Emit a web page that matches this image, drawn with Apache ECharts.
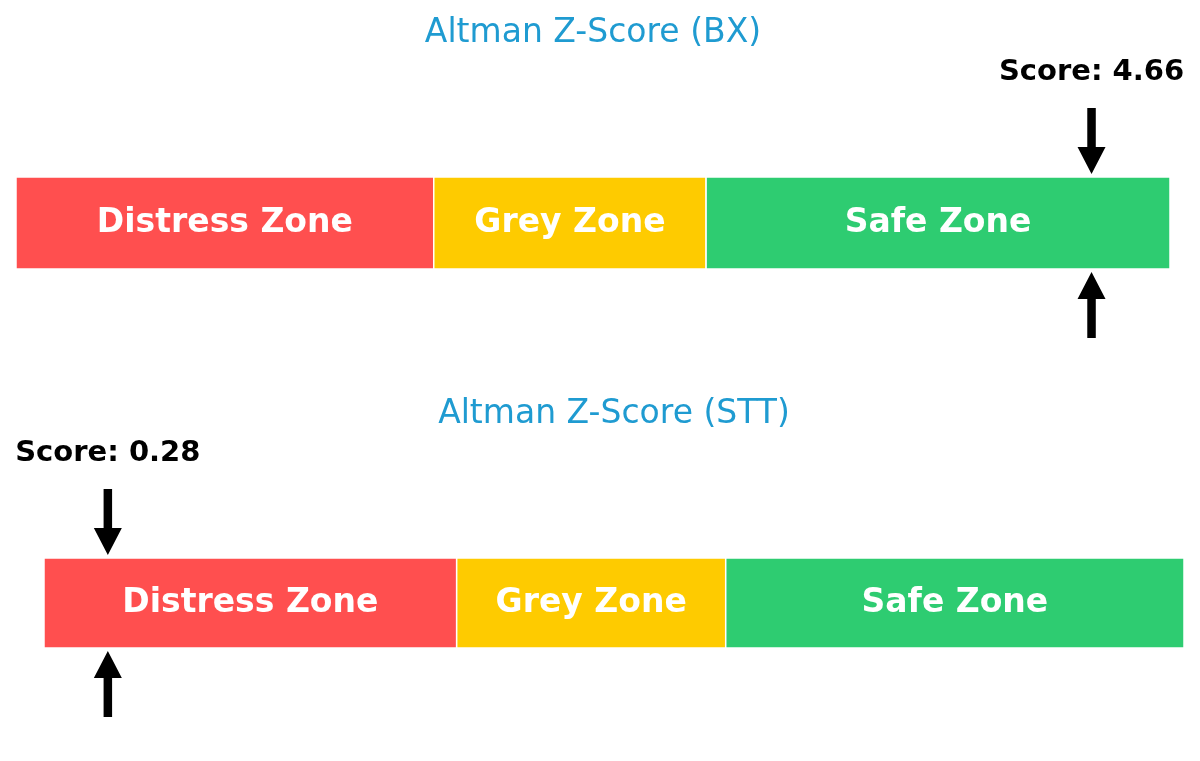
<!DOCTYPE html>
<html>
<head>
<meta charset="utf-8">
<title>Altman Z-Score</title>
<script src="https://cdn.jsdelivr.net/npm/echarts@6/dist/echarts.min.js"></script>
<style>
  html, body { margin: 0; padding: 0; background: #fff; }
  #chart { width: 1200px; height: 761px; }
</style>
</head>
<body>
<div id="chart"></div>
<script>
// data
const companies = ["BX", "STT"];
const scores = [4.66, 0.28];
const zoneNames = ["Distress Zone", "Grey Zone", "Safe Zone"];
const zoneStarts = [0, 1.81, 2.99];
const zoneEnds = [1.81, 2.99, 5];
const scaleMin = 0;
const scaleMax = 5;

// styles
const zoneColors = ["#ff4f4f", "#fecb00", "#2ecc71"];
const FONT = "'DejaVu Sans', 'Noto Sans', sans-serif";
const grids = [
  { left: 16, right: 30, top: 177, height: 92 },
  { left: 44, right: 16, top: 558, height: 90 }
];

const chart = echarts.init(document.getElementById("chart"));

// zone bar: rect from start to end, filling the grid height
function renderZone(params, api) {
  const start = api.value(0);
  const end = api.value(1);
  const idx = api.value(2);
  const p0 = api.coord([start, 1]);
  const p1 = api.coord([end, 0]);
  return {
    type: "rect",
    shape: { x: p0[0], y: p0[1], width: p1[0] - p0[0], height: p1[1] - p0[1] },
    style: { fill: zoneColors[idx], stroke: "#fff", lineWidth: 1.5 },
    textContent: {
      style: {
        text: zoneNames[idx],
        fill: "#fff",
        font: "bold 33px " + FONT
      }
    },
    textConfig: { position: "inside" }
  };
}

// arrows above/below the bar + score label
function renderMarker(params, api) {
  const score = api.value(0);
  const top = api.coord([score, 1]);
  const bot = api.coord([score, 0]);
  const x = top[0];
  const gap = 3, len = 66, head = 27, hw = 14, sw = 4.25;
  const t1 = top[1] - gap; // tip of down arrow
  const t2 = bot[1] + gap; // tip of up arrow
  return {
    type: "group",
    children: [
      {
        type: "polygon",
        shape: { points: [
          [x, t1], [x - hw, t1 - head], [x - sw, t1 - head], [x - sw, t1 - len],
          [x + sw, t1 - len], [x + sw, t1 - head], [x + hw, t1 - head]
        ] },
        style: { fill: "#000" }
      },
      {
        type: "polygon",
        shape: { points: [
          [x, t2], [x - hw, t2 + head], [x - sw, t2 + head], [x - sw, t2 + len],
          [x + sw, t2 + len], [x + sw, t2 + head], [x + hw, t2 + head]
        ] },
        style: { fill: "#000" }
      },
      {
        type: "text",
        style: {
          text: "Score: " + score.toFixed(2),
          x: x,
          y: top[1] - 105,
          align: "center",
          verticalAlign: "middle",
          fill: "#000",
          font: "bold 29px " + FONT
        }
      }
    ]
  };
}

const zoneData = zoneNames.map((n, i) => [zoneStarts[i], zoneEnds[i], i]);

const option = {
  animation: false,
  backgroundColor: "#fff",
  title: companies.map((c, i) => ({
    text: "Altman Z-Score (" + c + ")",
    left: grids[i].left + (1200 - grids[i].left - grids[i].right) / 2 - 5,
    textAlign: "center",
    top: i === 0 ? 12 : 393,
    textStyle: { color: "#1f9bd1", fontFamily: FONT, fontWeight: "normal", fontSize: 33 }
  })),
  grid: grids,
  xAxis: companies.map((c, i) => ({
    type: "value", gridIndex: i, min: scaleMin, max: scaleMax, show: false
  })),
  yAxis: companies.map((c, i) => ({
    type: "value", gridIndex: i, min: 0, max: 1, show: false
  })),
  series: []
};

companies.forEach((c, i) => {
  option.series.push({
    type: "custom",
    name: c + " zones",
    xAxisIndex: i,
    yAxisIndex: i,
    renderItem: renderZone,
    data: zoneData,
    silent: true
  });
  option.series.push({
    type: "custom",
    name: c + " score",
    xAxisIndex: i,
    yAxisIndex: i,
    clip: false,
    renderItem: renderMarker,
    data: [[scores[i]]],
    silent: true
  });
});

chart.setOption(option);
</script>
</body>
</html>
